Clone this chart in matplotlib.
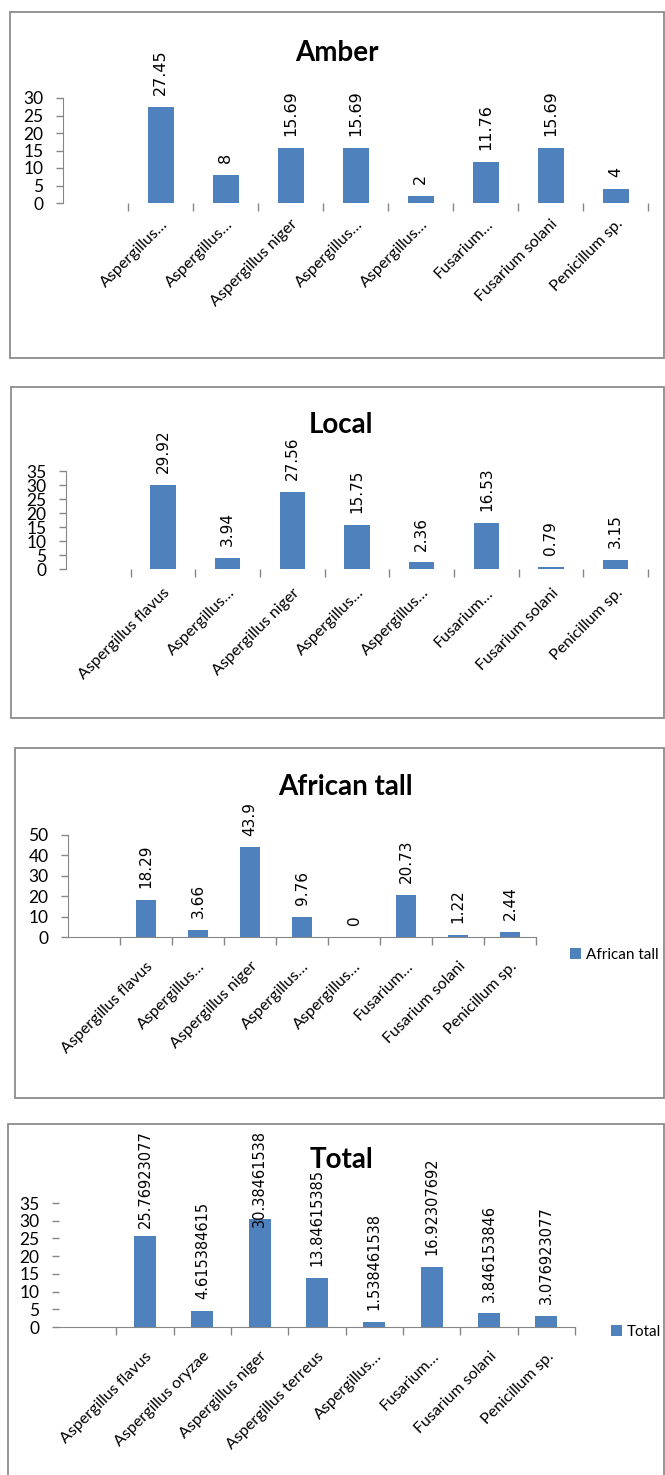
import numpy as np
import matplotlib
matplotlib.use("Agg")
import matplotlib.pyplot as plt
from matplotlib.patches import Rectangle

# ---------------- data ----------------
amber_labels = ["Aspergillus…", "Aspergillus…", "Aspergillus niger", "Aspergillus…",
                "Aspergillus…", "Fusarium…", "Fusarium solani", "Penicillum sp."]
amber_values = [27.45, 8, 15.69, 15.69, 2, 11.76, 15.69, 4]

local_labels = ["Aspergillus flavus", "Aspergillus…", "Aspergillus niger", "Aspergillus…",
                "Aspergillus…", "Fusarium…", "Fusarium solani", "Penicillum sp."]
local_values = [29.92, 3.94, 27.56, 15.75, 2.36, 16.53, 0.79, 3.15]

african_labels = ["Aspergillus flavus", "Aspergillus…", "Aspergillus niger", "Aspergillus…",
                  "Aspergillus…", "Fusarium…", "Fusarium solani", "Penicillum sp."]
african_values = [18.29, 3.66, 43.9, 9.76, 0, 20.73, 1.22, 2.44]

total_labels = ["Aspergillus flavus", "Aspergillus oryzae", "Aspergillus niger",
                "Aspergillus terreus", "Aspergillus…", "Fusarium…", "Fusarium solani",
                "Penicillum sp."]
total_values = [25.76923077, 4.615384615, 30.38461538, 13.84615385, 1.538461538,
                16.92307692, 3.846153846, 3.076923077]

titles = ["Amber", "Local", "African tall", "Total"]
legend_names = [None, None, "African tall", "Total"]

# ---------------- layout ----------------
W, H = 665, 1475
DPI = 100
BLUE = "#4F81BD"
GRAY = "#868686"
FONT = ["Lato", "DejaVu Sans"]
NUMFONT = ["DejaVu Sans"]

fig = plt.figure(figsize=(W / DPI, H / DPI), dpi=DPI)
fig.patch.set_facecolor("white")


def add_ax(x0, x1, ybot, ytop):
    return fig.add_axes([x0 / W, 1 - ybot / H, (x1 - x0) / W, (ybot - ytop) / H])


def frame(x0, y0, x1, y1):
    fig.patches.append(Rectangle((x0 / W, 1 - y1 / H), (x1 - x0) / W, (y1 - y0) / H,
                                 transform=fig.transFigure, fill=False,
                                 edgecolor="#8c8c8c", linewidth=1.3))


panels = [
    dict(labels=amber_labels, values=amber_values, ax=(63, 648, 203, 98), ymax=30, step=5,
         frame=(10, 12, 664, 358), title=(337, 53), left=True, bottom=False,
         width=0.40, nfs=11.5, xpad=10, legend=None, lab_limit=None),
    dict(labels=local_labels, values=local_values, ax=(66, 648, 569, 471), ymax=35, step=5,
         frame=(11, 387, 664, 718), title=(341, 425), left=True, bottom=False,
         width=0.39, nfs=11, xpad=12, legend=None, lab_limit=None),
    dict(labels=african_labels, values=african_values, ax=(68, 536, 937, 835), ymax=50, step=10,
         frame=(15, 748, 664, 1098), title=(345, 787), left=True, bottom=True,
         width=0.38, nfs=11, xpad=16, legend=(562, 955), lab_limit=None),
    dict(labels=total_labels, values=total_values, ax=(59, 575, 1327, 1203), ymax=35, step=5,
         frame=(8, 1124, 664, 1490), title=(341, 1160), left=False, bottom=True,
         width=0.38, nfs=10.5, xpad=16, legend=(603, 1332), lab_limit=1130),
]

annots = []
for p, title, lname in zip(panels, titles, legend_names):
    frame(*p["frame"])
    ax = add_ax(*p["ax"])
    vals = p["values"]
    n = len(vals)
    pos = np.arange(n)
    bars = ax.bar(pos, vals, width=p["width"], color=BLUE, label=lname, zorder=3)
    ax.set_xlim(-1.5, n - 0.5)
    ax.set_ylim(0, p["ymax"])
    ax.set_yticks(np.arange(0, p["ymax"] + 0.1, p["step"]))
    ax.set_yticklabels([f"{int(t)}" for t in ax.get_yticks()], fontfamily=FONT, fontsize=12.5)
    ax.set_xticks(pos)
    ax.set_xticklabels(p["labels"], rotation=45, ha="right", va="top",
                       rotation_mode="anchor", fontfamily=FONT, fontsize=11.5)
    ax.set_xticks(np.arange(-0.5, n - 0.4, 1), minor=True)
    ax.tick_params(axis="x", which="major", length=0, pad=p["xpad"])
    ax.tick_params(axis="x", which="minor", length=6, color=GRAY, width=1)
    ax.tick_params(axis="y", which="major", length=5, color=GRAY, width=1, pad=9,
                   direction="out")
    ax.set_facecolor("none")
    for s in ["top", "right"]:
        ax.spines[s].set_visible(False)
    ax.spines["left"].set_visible(p["left"])
    ax.spines["bottom"].set_visible(p["bottom"])
    ax.spines["left"].set_color(GRAY)
    ax.spines["bottom"].set_color(GRAY)

    for x, v in zip(pos, vals):
        t = ax.annotate(f"{v:.10g}", xy=(x, v), xytext=(0, 8.5), textcoords="offset points",
                        rotation=90, ha="center", va="bottom", fontfamily=NUMFONT,
                        fontsize=p["nfs"], annotation_clip=False, zorder=4)
        annots.append((t, p["lab_limit"]))

    tx, ty = p["title"]
    fig.text(tx / W, 1 - ty / H, title, ha="center", va="center", fontfamily=FONT,
             fontweight="bold", fontsize=20)

    if p["legend"] is not None:
        lx, ly = p["legend"]
        ax.legend(handles=[bars], loc="center left", bbox_to_anchor=(lx / W, 1 - ly / H),
                  bbox_transform=fig.transFigure, frameon=False, borderpad=0,
                  handlelength=0.75, handleheight=0.75, handletextpad=0.3,
                  prop=dict(family=FONT, size=11))

# keep data labels inside the chart area (as Excel does)
fig.canvas.draw()
renderer = fig.canvas.get_renderer()
for t, lim in annots:
    if lim is None:
        continue
    bb = t.get_window_extent(renderer)
    top_limit = H - lim
    if bb.y1 > top_limit:
        dx, dy = t.xyann
        t.xyann = (dx, dy - (bb.y1 - top_limit) * 72 / DPI)

fig.savefig("out.png", dpi=DPI)
